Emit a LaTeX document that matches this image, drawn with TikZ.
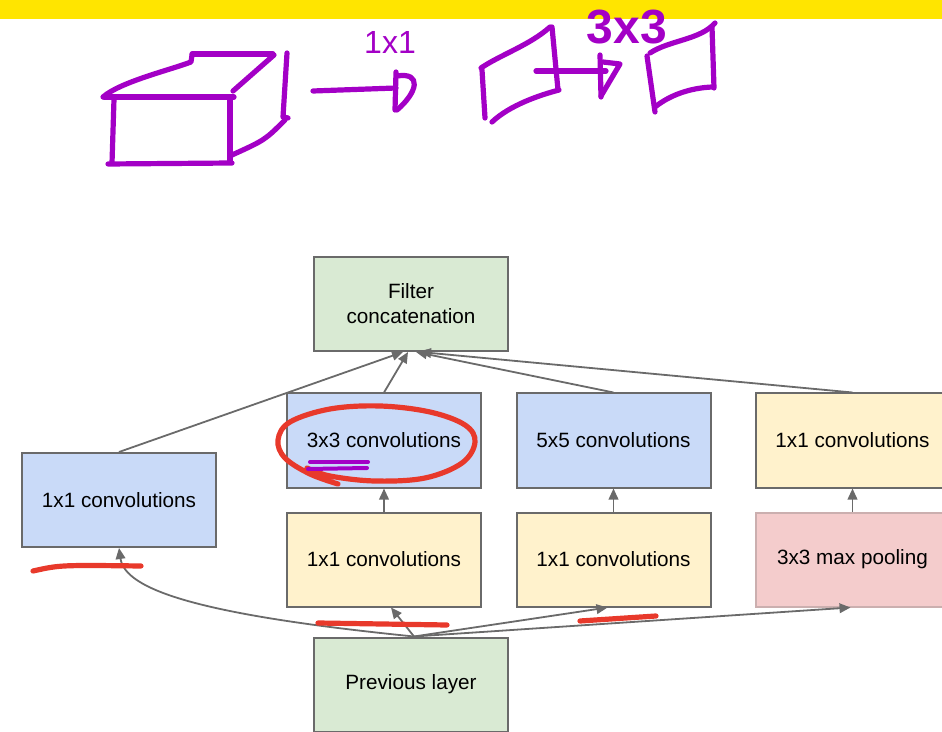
\documentclass[tikz,border=0pt]{standalone}
\usepackage{fontspec}
\setmainfont{Liberation Sans}
\usepackage{tikz}
\usetikzlibrary{arrows.meta}
\usetikzlibrary{calc}
\definecolor{layerblue}{HTML}{C9DAF8}
\definecolor{layeryellow}{HTML}{FFF2CC}
\definecolor{layergreen}{HTML}{D9EAD3}
\definecolor{layerpink}{HTML}{F4CCCC}
\definecolor{edgegray}{HTML}{6A6A6A}
\definecolor{penpurple}{HTML}{A300C6}
\definecolor{penred}{HTML}{E8392B}
\definecolor{baryellow}{HTML}{FFE500}

\begin{document}
\begin{tikzpicture}[x=0.5pt, y=-0.5pt, layer/.style={draw=edgegray, line width=1pt, rectangle, minimum width=97pt, minimum height=47pt, inner sep=0pt, align=center, font=\fontsize{10.35}{12.5}\selectfont, text=black}, link/.style={edgegray, line width=0.9pt, -{Triangle[length=5.5pt, width=4.8pt]}}, pen/.style={penpurple, line width=2.6pt, line cap=round, line join=round}, marker/.style={penred, line width=2.6pt, line cap=round, line join=round}]
		\useasboundingbox (0,0) rectangle (942,732);
		\clip (0,0) rectangle (942,732);
		\fill[baryellow] (0,0) rectangle (942,19);
		
		% inception module
		\node[layer, fill=layergreen](concat) at (411, 304) {Filter\\concatenation};
		\node[layer, fill=layerblue](single) at (119, 500) {1x1 convolutions};
		\node[layer, fill=layerblue](conv3) at (384, 440.5) {3x3 convolutions};
		\node[layer, fill=layerblue](conv5) at (613.5, 440.5) {5x5 convolutions};
		\node[layer, fill=layeryellow](proj) at (852.5, 440.5) {1x1 convolutions};
		\node[layer, fill=layeryellow](red1) at (384, 559.5) {1x1 convolutions};
		\node[layer, fill=layeryellow](red5) at (613.5, 559.5) {1x1 convolutions};
		\node[layer, fill=layerpink, draw=layerpink!70!edgegray](pool) at (852.5, 559.5) {3x3 max pooling};
		\node[layer, fill=layergreen](prev) at (411, 684.5) {Previous layer};
		
		\draw[link] (single.north) -- ($(concat.south)+(-8,0)$);
		\draw[link] (conv3.north) -- ($(concat.south)+(-3,0)$);
		\draw[link] (conv5.north) -- ($(concat.south)+(5,0)$);
		\draw[link] (proj.north) -- ($(concat.south)+(9,0)$);
		\draw[link] (red1) -- (conv3);
		\draw[link] (red5) -- (conv5);
		\draw[link] (pool) -- (proj);
		\draw[link] ($(prev.north)+(3,0)$) .. controls (200,615) and (125,590) .. (single.south);
		\draw[link] ($(prev.north)+(3,0)$) -- ($(red1.south)+(7,0)$);
		\draw[link] ($(prev.north)+(3,0)$) -- ($(red5.south)+(-6,0)$);
		\draw[link] ($(prev.north)+(3,0)$) -- ($(pool.south)+(-2,0)$);
		
		% pen notes
		\draw[marker] plot[smooth, tension=0.6] coordinates {(338,484) (310,474) (285,458) (278,440) (290,422) (330,409) (380,406) (430,412) (465,425) (475,442) (462,463) (425,478) (375,481) (330,476) (307,468)};
		\draw[pen, line width=2pt] (310,462) -- (368,462);
		\draw[pen, line width=2pt] (308,469) -- (367,468);
		\draw[marker] (33,571) .. controls (60,565) .. (141,566);
		\draw[marker] (318,623) -- (447,625);
		\draw[marker] (580,621) -- (656,616);
		
		% cube
		\draw[pen] (104,97) -- (234,97);
		\draw[pen] (103,97) .. controls (120,82) and (170,70) .. (191,62) -- (192,55);
		\draw[pen] (192,54) -- (273,54);
		\draw[pen] (274,55) -- (233,91);
		\draw[pen] (287,53) -- (283,117) -- (288,118);
		\draw[pen] (285,120) .. controls (265,140) .. (232,155);
		\draw[pen] (114,99) -- (112,163);
		\draw[pen] (230,97) -- (230,162);
		\draw[pen] (108,164) -- (232,163);
		
		% 1x1 step
		\node[text=penpurple, font=\fontsize{16}{16}\selectfont](label1) at (390, 42) {1x1};
		\draw[pen] (313,91) -- (396,88);
		\draw[pen] (396,72) -- (395,110);
		\draw[pen] (397,76) .. controls (422,72) and (418,92) .. (397,110);
		
		% middle slab
		\draw[pen] (482,70) -- (485,118);
		\draw[pen] (481,68) .. controls (500,55) and (530,45) .. (550,27);
		\draw[pen] (552,27) -- (558,90);
		\draw[pen] (559,90) .. controls (540,95) and (510,105) .. (492,122);
		
		% 3x3 step
		\node[text=penpurple, font=\fontsize{24}{24}\selectfont\bfseries](label3) at (627, 27) {3x3};
		\draw[pen] (536,71) -- (606,71);
		\draw[pen] (600,55) -- (601,97);
		\draw[pen] (603,62) -- (620,64) -- (601,96);
		
		% last slab
		\draw[pen] (647,56) -- (655,112);
		\draw[pen] (650,53) .. controls (670,40) and (700,40) .. (715,23);
		\draw[pen] (712,27) -- (714,88);
		\draw[pen] (712,87) .. controls (690,88) and (670,95) .. (655,107);
\end{tikzpicture}
\end{document}
